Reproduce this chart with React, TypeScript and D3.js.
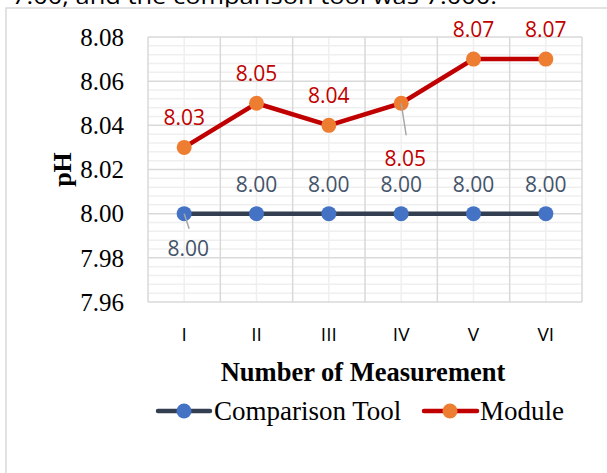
import * as d3 from 'd3';

const categories = ['I', 'II', 'III', 'IV', 'V', 'VI'];
const comparisonValues = [8.0, 8.0, 8.0, 8.0, 8.0, 8.0];
const moduleValues = [8.03, 8.05, 8.04, 8.05, 8.07, 8.07];
const yTickValues = [7.96, 7.98, 8.0, 8.02, 8.04, 8.06, 8.08];
// where each data label sits relative to its point
const comparisonLabelSide = ['below', 'above', 'above', 'above', 'above', 'above'];
const moduleLabelSide = ['above', 'above', 'above', 'below', 'above', 'above'];

const W = 607;
const H = 473;
const left = 148;
const right = 582;
const top = 37;
const bottom = 302;

const serif = '"Liberation Serif", serif';
const sans = '"Open Sans", "Liberation Sans", sans-serif';

export default function App() {
  const x = d3.scaleBand<string>().domain(categories).range([left, right]);
  const y = d3.scaleLinear().domain([7.96, 8.08]).range([bottom, top]);
  const cx = (c: string) => (x(c) as number) + x.bandwidth() / 2;

  const minorY: number[] = [];
  for (let i = 0; i < yTickValues.length - 1; i++) {
    const step = (yTickValues[i + 1] - yTickValues[i]) / 5;
    for (let k = 1; k < 5; k++) minorY.push(yTickValues[i] + step * k);
  }

  const line = d3
    .line<number>()
    .x((_, i) => cx(categories[i]))
    .y((d) => y(d));

  const fmt = d3.format('.2f');

  // leaderLen / textDrop: how far below the point the callout goes
  const labels = (values: number[], sides: string[], color: string, leaderLen: number, textDrop: number) =>
    values.map((v, i) => {
      const px = cx(categories[i]);
      const py = y(v);
      if (sides[i] === 'above') {
        return (
          <text key={i} x={px} y={py - 22} fill={color} fontSize={21} fontFamily={sans} textAnchor="middle">
            {fmt(v)}
          </text>
        );
      }
      return (
        <g key={i}>
          <line x1={px} y1={py} x2={px + 5} y2={py + leaderLen} stroke="#A6A6A6" strokeWidth={1.5} />
          <text x={px + 4} y={py + textDrop} fill={color} fontSize={21} fontFamily={sans} textAnchor="middle">
            {fmt(v)}
          </text>
        </g>
      );
    });

  return (
    <svg width={W} height={H} style={{ position: 'absolute', left: 0, top: 0, background: '#fff' }}>
      <text x={12} y={4} fontSize={22} fontFamily={sans} fill="#000" textLength={485} lengthAdjust="spacingAndGlyphs">
        7.00, and the comparison tool was 7.000.
      </text>
      <rect x={6} y={8} width={W + 10} height={H + 10} fill="#fff" stroke="#D9D9D9" strokeWidth={1.5} />

      {/* minor grid */}
      {minorY.map((v, i) => (
        <line key={'my' + i} x1={left} x2={right} y1={y(v)} y2={y(v)} stroke="#EFEFEF" strokeWidth={1.5} />
      ))}
      {categories.map((c) => (
        <line key={'mx' + c} x1={cx(c)} x2={cx(c)} y1={top} y2={bottom} stroke="#EFEFEF" strokeWidth={1.5} />
      ))}
      {/* major grid */}
      {yTickValues.map((v) => (
        <line key={'gy' + v} x1={left} x2={right} y1={y(v)} y2={y(v)} stroke="#D9D9D9" strokeWidth={1.5} />
      ))}
      {[...categories.map((c) => x(c) as number), right].map((px, i) => (
        <line key={'gx' + i} x1={px} x2={px} y1={top} y2={bottom} stroke="#D9D9D9" strokeWidth={1.5} />
      ))}

      {/* y ticks */}
      {yTickValues.map((v) => (
        <text key={'ty' + v} x={124} y={y(v)} dy="0.35em" textAnchor="end" fontSize={25} fontFamily={serif} fill="#000">
          {fmt(v)}
        </text>
      ))}
      <text
        transform={`translate(71,${(top + bottom) / 2}) rotate(-90)`}
        textAnchor="middle"
        fontSize={26}
        fontWeight="bold"
        fontFamily={serif}
        fill="#000"
      >
        pH
      </text>

      {/* x ticks */}
      {categories.map((c) => (
        <text key={'tx' + c} x={cx(c)} y={341} textAnchor="middle" fontSize={19} fontFamily={sans} fill="#000">
          {c}
        </text>
      ))}
      <text x={(left + right) / 2 - 2} y={381} textAnchor="middle" fontSize={26.5} fontWeight="bold" fontFamily={serif} fill="#000">
        Number of Measurement
      </text>

      {/* series */}
      <path d={line(comparisonValues) as string} fill="none" stroke="#333F50" strokeWidth={4.5} />
      <path d={line(moduleValues) as string} fill="none" stroke="#C00000" strokeWidth={4.5} />
      {comparisonValues.map((v, i) => (
        <circle key={'cc' + i} cx={cx(categories[i])} cy={y(v)} r={7.5} fill="#4472C4" />
      ))}
      {moduleValues.map((v, i) => (
        <circle key={'mc' + i} cx={cx(categories[i])} cy={y(v)} r={7.5} fill="#ED7D31" />
      ))}
      {labels(comparisonValues, comparisonLabelSide, '#44546A', 15, 42)}
      {labels(moduleValues, moduleLabelSide, '#C00000', 32, 63)}

      {/* legend */}
      <g>
        <line x1={158} x2={210} y1={411} y2={411} stroke="#333F50" strokeWidth={4.5} strokeLinecap="round" />
        <circle cx={184} cy={411} r={7.5} fill="#4472C4" />
        <text x={214} y={411} dy="0.35em" fontSize={27} fontFamily={serif} fill="#000">
          Comparison Tool
        </text>
        <line x1={424} x2={477} y1={411} y2={411} stroke="#C00000" strokeWidth={4.5} strokeLinecap="round" />
        <circle cx={450} cy={411} r={7.5} fill="#ED7D31" />
        <text x={480} y={411} dy="0.35em" fontSize={27} fontFamily={serif} fill="#000">
          Module
        </text>
      </g>
    </svg>
  );
}
